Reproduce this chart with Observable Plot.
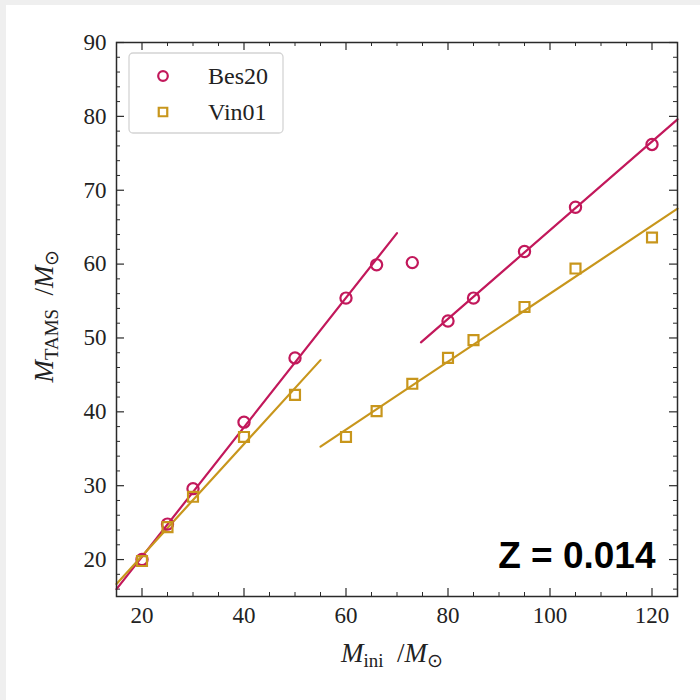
<!DOCTYPE html>
<html><head><meta charset="utf-8">
<script src="https://cdn.jsdelivr.net/npm/d3@7"></script>
<script src="https://cdn.jsdelivr.net/npm/@observablehq/plot@0.6"></script>
<style>
body{margin:0;background:#fff;}
#wrap{position:relative;width:700px;height:700px;}
.strip{position:absolute;background:#efefef;}
</style></head><body>
<div id="wrap"><div class="strip" style="left:0;top:0;width:700px;height:5px"></div><div class="strip" style="left:0;top:0;width:6px;height:700px"></div></div>
<script>
// ---- data ----
const series = ["Bes20", "Vin01"];
const colors = ["#C2185B", "#C8961C"];
const masses = [20, 25, 30, 40, 50, 60, 66, 73, 80, 85, 95, 105, 120];
const bes20 = [20.0, 24.8, 29.6, 38.6, 47.3, 55.4, 59.9, 60.2, 52.3, 55.4, 61.7, 67.7, 76.2];
const vin01 = [19.8, 24.4, 28.5, 36.6, 42.3, 36.6, 40.1, 43.8, 47.3, 49.7, 54.2, 59.4, 63.6];
// fitted line segments (end points)
const bes20FitLowX = [15, 70],   bes20FitLowY = [16.0, 64.2];
const bes20FitHighX = [74.7, 125], bes20FitHighY = [49.4, 79.6];
const vin01FitLowX = [15, 55],   vin01FitLowY = [16.7, 47.0];
const vin01FitHighX = [55, 125], vin01FitHighY = [35.3, 67.5];
const xTicks = [20, 40, 60, 80, 100, 120];
const yTicks = [20, 30, 40, 50, 60, 70, 80, 90];
const xMinorTicks = [15, 25, 30, 35, 45, 50, 55, 65, 70, 75, 85, 90, 95, 105, 110, 115, 125];
const yMinorTicks = [16, 18, 22, 24, 26, 28, 32, 34, 36, 38, 42, 44, 46, 48, 52, 54, 56, 58, 62, 64, 66, 68, 72, 74, 76, 78, 82, 84, 86, 88];
const annotation = "Z = 0.014";

// ---- tables ----
const points = [];
masses.forEach((m, i) => {
  points.push({series: "Bes20", m, v: bes20[i]});
  points.push({series: "Vin01", m, v: vin01[i]});
});
const fits = [];
const addFit = (name, seg, xs, ys) => xs.forEach((x, i) => fits.push({series: name, seg, x, y: ys[i]}));
addFit("Bes20", "b1", bes20FitLowX, bes20FitLowY);
addFit("Bes20", "b2", bes20FitHighX, bes20FitHighY);
addFit("Vin01", "v1", vin01FitLowX, vin01FitLowY);
addFit("Vin01", "v2", vin01FitHighX, vin01FitHighY);

const W = 700, H = 700, mL = 116, mR = 23, mT = 42, mB = 104;
const pw = W - mL - mR, ph = H - mT - mB;
const serif = "'Liberation Serif', 'Times New Roman', serif";
const ink = "#2a2a2a";
const major = 8, minor = 4;

const chart = Plot.plot({
  width: W, height: H,
  marginLeft: mL, marginRight: mR, marginTop: mT, marginBottom: mB,
  style: {background: "transparent", fontFamily: serif, color: "#222", overflow: "visible"},
  x: {domain: [15, 125]},
  y: {domain: [15, 90]},
  color: {domain: series, range: colors},
  marks: [
    Plot.axisX({ticks: xTicks, tickSize: 0, tickPadding: 10, fontSize: 23, label: null}),
    Plot.axisY({ticks: yTicks, tickSize: 0, tickPadding: 10, fontSize: 23, label: null}),
    // inward ticks on all four sides
    Plot.tickX(xTicks, {x: d => d, insetTop: ph - major, stroke: ink, strokeWidth: 1.2}),
    Plot.tickX(xTicks, {x: d => d, insetBottom: ph - major, stroke: ink, strokeWidth: 1.2}),
    Plot.tickX(xMinorTicks, {x: d => d, insetTop: ph - minor, stroke: ink, strokeWidth: 1}),
    Plot.tickX(xMinorTicks, {x: d => d, insetBottom: ph - minor, stroke: ink, strokeWidth: 1}),
    Plot.tickY(yTicks, {y: d => d, insetRight: pw - major, stroke: ink, strokeWidth: 1.2}),
    Plot.tickY(yTicks, {y: d => d, insetLeft: pw - major, stroke: ink, strokeWidth: 1.2}),
    Plot.tickY(yMinorTicks, {y: d => d, insetRight: pw - minor, stroke: ink, strokeWidth: 1}),
    Plot.tickY(yMinorTicks, {y: d => d, insetLeft: pw - minor, stroke: ink, strokeWidth: 1}),
    Plot.line(fits, {x: "x", y: "y", z: "seg", stroke: "series", strokeWidth: 2.2}),
    Plot.dot(points.filter(d => d.series === "Bes20"), {x: "m", y: "v", stroke: "series", symbol: "circle", r: 5.6, strokeWidth: 2.2, fill: "none"}),
    Plot.dot(points.filter(d => d.series === "Vin01"), {x: "m", y: "v", stroke: "series", symbol: "square", r: 5.6, strokeWidth: 2.2, fill: "none"}),
    Plot.text([annotation], {frameAnchor: "bottom-right", dx: -22, dy: -29, textAnchor: "end", lineAnchor: "bottom",
      fontSize: 37, fontWeight: "bold", fontFamily: "Arial, 'Liberation Sans', Helvetica, sans-serif", fill: "#000"}),
    Plot.frame({stroke: ink, strokeWidth: 1.5})
  ]
});

const svg = d3.select(chart);
// legend
const lg = svg.append("g").attr("text-anchor", "start");
lg.append("rect").attr("x", 129).attr("y", 53).attr("width", 154).attr("height", 80).attr("rx", 4)
  .attr("fill", "white").attr("fill-opacity", 0.85).attr("stroke", "#d4d4d4").attr("stroke-width", 1.3);
const legendRows = [{name: series[0], sym: d3.symbolCircle, y: 76}, {name: series[1], sym: d3.symbolSquare, y: 112}];
legendRows.forEach((r, i) => {
  lg.append("path").attr("d", d3.symbol(r.sym, Math.PI * 4.8 * 4.8)())
    .attr("transform", `translate(163,${r.y})`).attr("fill", "none").attr("stroke", colors[i]).attr("stroke-width", 2.2);
  lg.append("text").attr("x", 208).attr("y", r.y + 7.5).attr("font-size", 24).attr("font-family", serif)
    .attr("text-anchor", "start").attr("fill", "#222").text(r.name);
});
// axis labels with subscripts
function label(g, sub, fs) {
  const t = g.append("text").attr("font-family", serif).attr("font-size", fs).attr("fill", "#222");
  t.append("tspan").attr("font-style", "italic").text("M");
  t.append("tspan").attr("font-size", fs * 0.7).attr("dy", fs * 0.2).text(sub);
  t.append("tspan").attr("dy", -fs * 0.2).text("\u2002/");
  t.append("tspan").attr("font-style", "italic").text("M");
  t.append("tspan").attr("font-size", fs * 0.7).attr("dy", fs * 0.2).text("\u2299");
  return t;
}
label(svg.append("g").attr("transform", "translate(392,662)"), "ini", 27).attr("text-anchor", "middle");
label(svg.append("g").attr("transform", "translate(53,316) rotate(-90)"), "TAMS", 27).attr("text-anchor", "middle");

const wrap = document.getElementById("wrap");
wrap.prepend(chart);
</script>
</body></html>
